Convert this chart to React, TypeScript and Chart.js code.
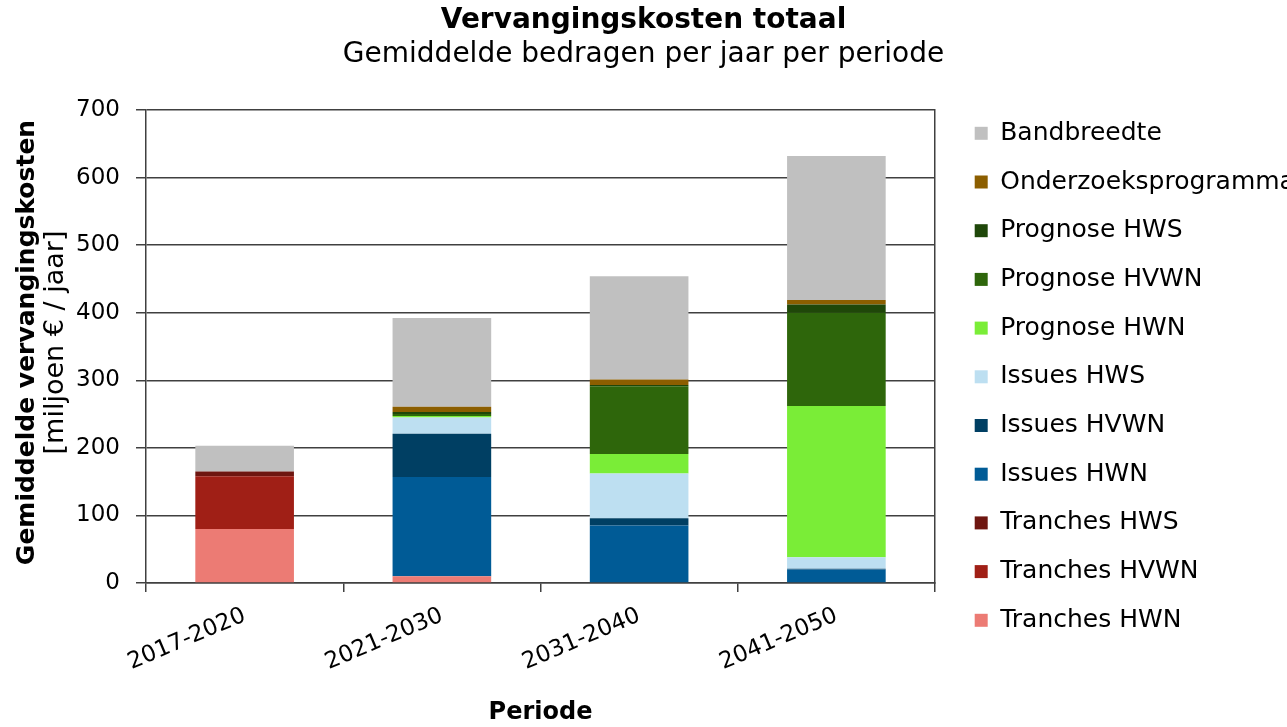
import React, { useEffect, useRef } from "react";
import { Chart, registerables } from "chart.js";

Chart.register(...registerables);

const categories = ["2017-2020", "2021-2030", "2031-2040", "2041-2050"];

const tranchesHWN = [80, 10, 0, 0];
const tranchesHVWN = [78, 0, 0, 0];
const tranchesHWS = [7, 0, 0, 0];
const issuesHWN = [0, 147, 85, 20];
const issuesHVWN = [0, 64, 11, 1];
const issuesHWS = [0, 24, 66, 17];
const prognoseHWN = [0, 2, 29, 224];
const prognoseHVWN = [0, 3, 100, 138];
const prognoseHWS = [0, 3, 2, 12];
const onderzoeksprogramma = [0, 8, 8, 7];
const bandbreedte = [38, 131, 153, 213];

const yTicks = [0, 100, 200, 300, 400, 500, 600, 700];

const FONT = '"DejaVu Sans", Verdana, sans-serif';
const LINE = "#404040";

const yTitlePlugin = {
  id: "yTitle",
  afterDraw(chart: any) {
    const { ctx, chartArea } = chart;
    const cy = (chartArea.top + chartArea.bottom) / 2 - 4;
    ctx.save();
    ctx.fillStyle = "#000";
    ctx.textAlign = "center";
    ctx.textBaseline = "middle";
    ctx.translate(chartArea.left - 119, cy);
    ctx.rotate(-Math.PI / 2);
    ctx.font = `bold 25px ${FONT}`;
    ctx.fillText("Gemiddelde vervangingskosten", 0, 0);
    ctx.restore();
    ctx.save();
    ctx.fillStyle = "#000";
    ctx.textAlign = "center";
    ctx.textBaseline = "middle";
    ctx.translate(chartArea.left - 90, cy);
    ctx.rotate(-Math.PI / 2);
    ctx.font = `27px ${FONT}`;
    ctx.fillText("[miljoen € / jaar]", 0, 0);
    ctx.restore();
  },
};

export default function App() {
  const ref = useRef<HTMLCanvasElement | null>(null);

  useEffect(() => {
    document.body.style.margin = "0";
    if (!ref.current) return;
    const ds = (label: string, data: number[], color: string) => ({
      label,
      data,
      backgroundColor: color,
      borderWidth: 0,
      barPercentage: 0.5,
      categoryPercentage: 1,
    });
    const chart = new Chart(ref.current, {
      type: "bar",
      data: {
        labels: categories,
        datasets: [
          ds("Tranches HWN", tranchesHWN, "#EC7B74"),
          ds("Tranches HVWN", tranchesHVWN, "#A01F16"),
          ds("Tranches HWS", tranchesHWS, "#6E1610"),
          ds("Issues HWN", issuesHWN, "#005B96"),
          ds("Issues HVWN", issuesHVWN, "#003F63"),
          ds("Issues HWS", issuesHWS, "#BDDFF1"),
          ds("Prognose HWN", prognoseHWN, "#7AED37"),
          ds("Prognose HVWN", prognoseHVWN, "#2E660B"),
          ds("Prognose HWS", prognoseHWS, "#1F4709"),
          ds("Onderzoeksprogramma", onderzoeksprogramma, "#8C5E00"),
          ds("Bandbreedte", bandbreedte, "#C0C0C0"),
        ],
      },
      options: {
        responsive: false,
        animation: false,
        layout: { padding: 0 },
        plugins: {
          title: {
            display: true,
            text: "Vervangingskosten totaal",
            color: "#000",
            font: { family: FONT, size: 28, weight: "bold" },
            padding: { top: 4, bottom: 0 },
          },
          subtitle: {
            display: true,
            text: "Gemiddelde bedragen per jaar per periode",
            color: "#000",
            font: { family: FONT, size: 28, weight: "normal" },
            padding: { top: 0.6, bottom: 38.2 },
          },
          legend: {
            position: "right",
            align: "start",
            reverse: true,
            maxWidth: 336,
            title: {
              display: true,
              text: " ",
              font: { size: 10, lineHeight: 1 },
              padding: { top: 87.1, bottom: 0 },
            },
            labels: {
              boxWidth: 13,
              boxHeight: 13,
              padding: 23.7,
              color: "#000",
              font: { family: FONT, size: 25 },
            },
          },
          tooltip: { enabled: false },
        },
        scales: {
          x: {
            stacked: true,
            grid: {
              display: true,
              offset: true,
              drawOnChartArea: false,
              drawTicks: true,
              tickLength: 9,
              color: LINE,
              lineWidth: 1.5,
            },
            border: { display: true, color: LINE, width: 1.5 },
            ticks: {
              color: "#000",
              font: { family: FONT, size: 23 },
              minRotation: 23,
              maxRotation: 23,
              autoSkip: false,
              padding: 10,
            },
            title: {
              display: true,
              text: "Periode",
              color: "#000",
              font: { family: FONT, size: 24, weight: "bold" },
              padding: { top: 0, bottom: 0 },
            },
            afterFit(scale: any) {
              scale.height = 144;
            },
          },
          y: {
            stacked: true,
            min: 0,
            max: 700,
            afterBuildTicks(scale: any) {
              scale.ticks = yTicks.map((v) => ({ value: v }));
            },
            grid: {
              color: LINE,
              lineWidth: 1.5,
              drawTicks: true,
              tickLength: 10,
            },
            border: { display: true, color: LINE, width: 1.5 },
            ticks: {
              color: "#000",
              font: { family: FONT, size: 23 },
              padding: 16,
            },
            afterFit(scale: any) {
              scale.width = 146;
            },
          },
          yRight: {
            type: "linear",
            position: "right",
            display: true,
            grid: { display: false, drawTicks: false },
            ticks: { display: false },
            border: { display: true, color: LINE, width: 1.5 },
            afterFit(scale: any) {
              scale.width = 16;
            },
          },
        },
      },
      plugins: [yTitlePlugin],
    } as any);
    return () => chart.destroy();
  }, []);

  return (
    <div style={{ width: 1287, height: 727 }}>
      <canvas ref={ref} width={1287} height={727} style={{ display: "block" }} />
    </div>
  );
}
